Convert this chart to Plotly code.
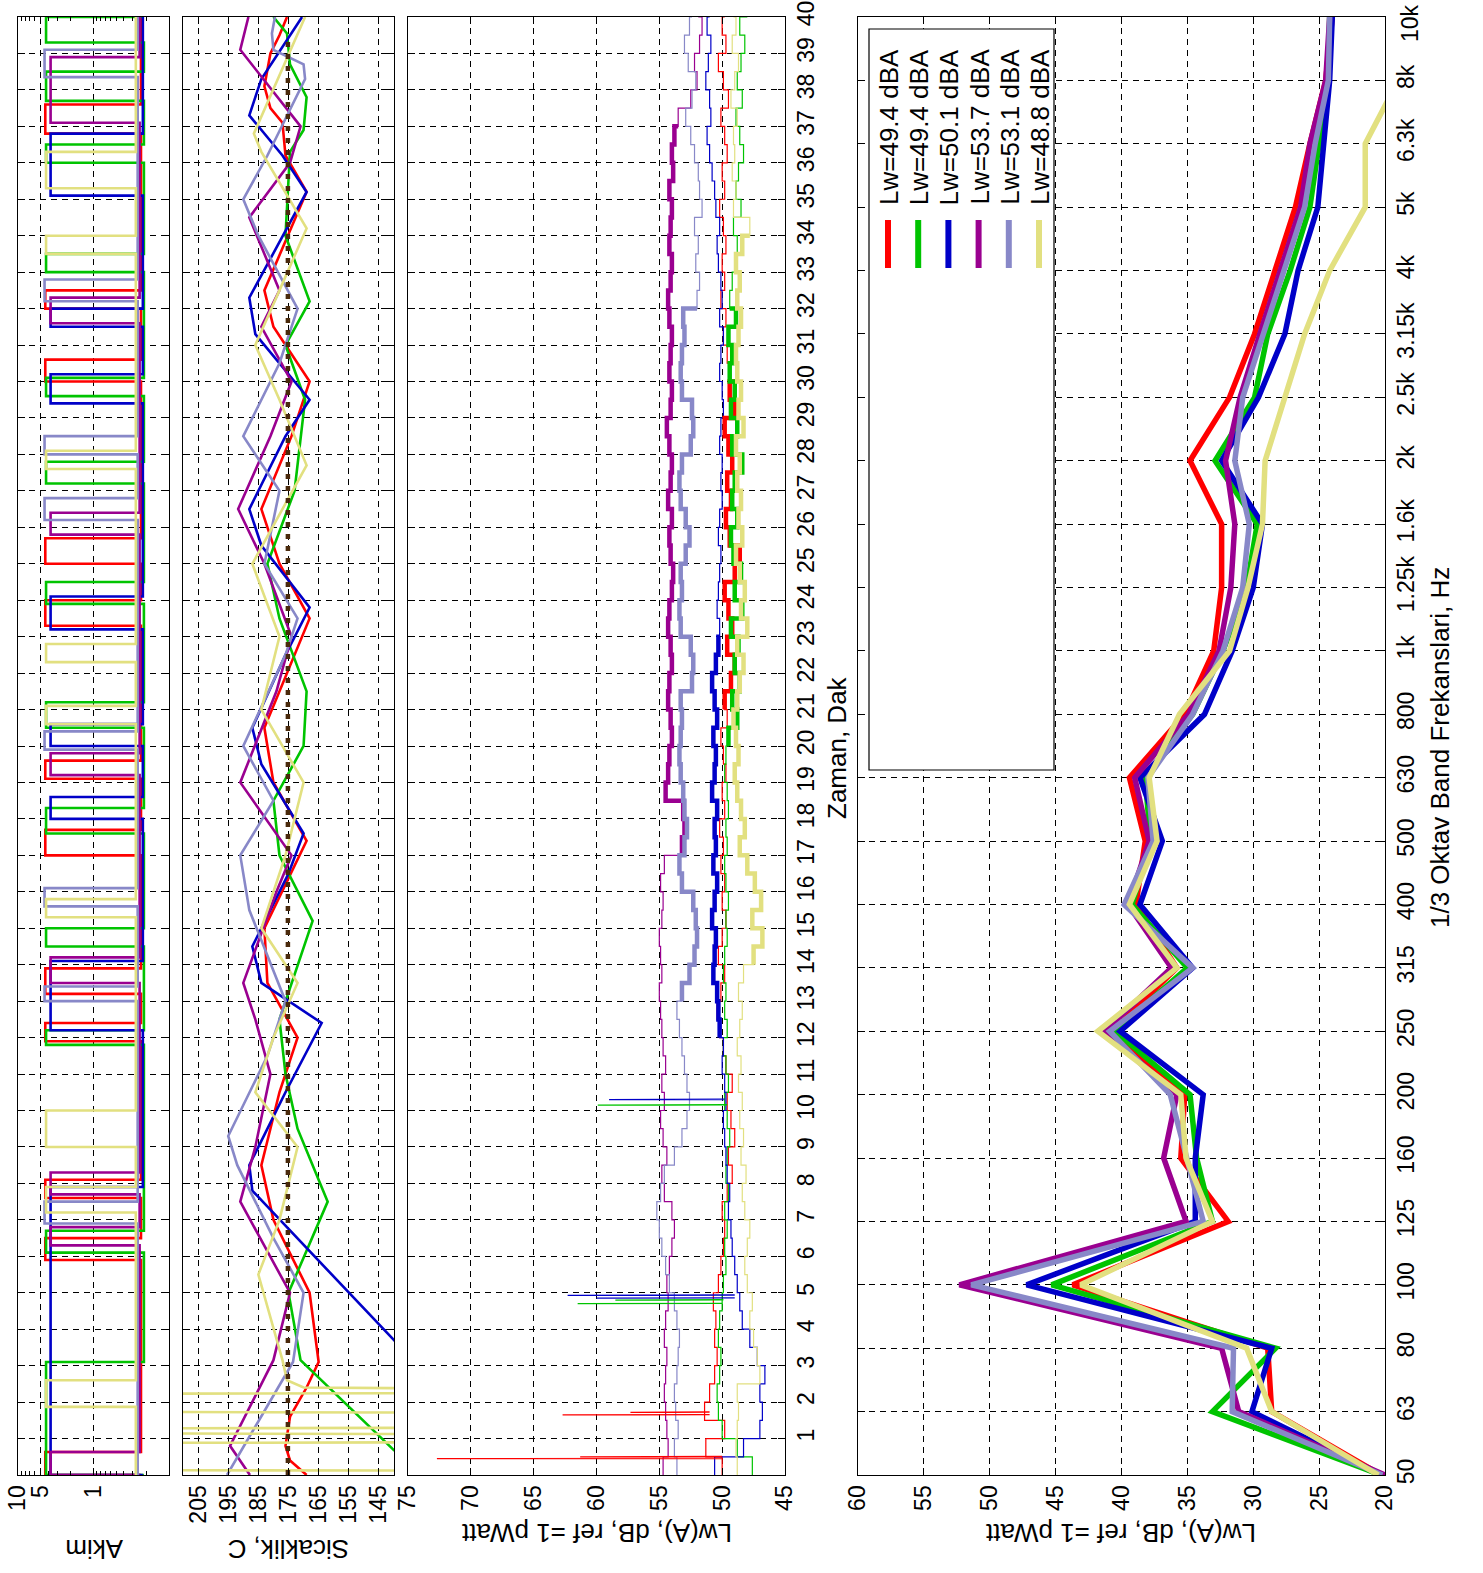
import plotly.graph_objects as go

# ---------------- DATA ----------------
series_names = ["Lw=49.4 dBA", "Lw=49.4 dBA", "Lw=50.1 dBA", "Lw=53.7 dBA", "Lw=53.1 dBA", "Lw=48.8 dBA"]
series_colors = ["#ff0000", "#00c400", "#0000c8", "#9a0090", "#8888c8", "#e2e080"]

# Akim (current): high / low levels and "on" intervals (minutes)
akim_high = [4.35, 4.25, 3.7, 3.7, 4.45, 4.25]
akim_low = [0.235, 0.215, 0.222, 0.245, 0.26, 0.275]
akim_on = [
    [[0, 0.63], [5.9, 6.5], [7.6, 8.1], [11.9, 12.4], [13.2, 13.9], [17.0, 17.7], [19.1, 19.6], [23.3, 24.0], [25.0, 25.7], [30.0, 30.6], [32.0, 32.5], [36.8, 37.6]],
    [[0, 3.1], [6.1, 6.7], [11.8, 12.2], [14.5, 15.0], [17.6, 18.3], [20.5, 21.2], [23.9, 24.5], [27.2, 27.8], [29.6, 30.1], [33.0, 33.5], [36.0, 36.5], [37.7, 38.5], [39.3, 40]],
    [[0, 7.9], [12.2, 14.1], [18.0, 18.6], [20.0, 20.6], [23.2, 24.1], [29.4, 30.2], [31.5, 32.0], [35.1, 36.8]],
    [[0, 0.63], [6.3, 6.8], [7.7, 8.3], [13.5, 14.2], [19.2, 19.8], [25.8, 26.4], [31.6, 32.3], [37.1, 38.9]],
    [[6.9, 7.5], [13.0, 13.4], [15.6, 16.1], [19.9, 20.4], [26.2, 26.8], [28.0, 28.5], [32.2, 32.8], [38.35, 39.1]],
    [[1.87, 2.6], [7.2, 7.9], [9.0, 10.0], [15.3, 15.8], [20.6, 21.1], [22.3, 22.8], [27.6, 28.1], [33.5, 34.0], [35.3, 36.3]],
]

# Sicaklik (temperature) vertices: time (min) and value (C)
temp_t = [
    [0, 0.4, 0.8, 1.6, 2.4, 3.1, 5.0, 7.0, 8.5, 10.5, 12.0, 13.5, 15.0, 17.4, 19.0, 20.5, 23.5, 25.0, 26.5, 28.5, 30.0, 31.5, 32.5, 35.2, 36.2, 37.1, 37.5, 38.1, 39.0, 39.5, 40],
    [0, 0.68, 3.15, 5.0, 7.5, 9.5, 11.0, 12.5, 15.2, 17.0, 18.5, 20.0, 21.5, 23.5, 25.0, 27.0, 29.5, 31.0, 32.2, 34.0, 36.3, 36.9, 37.8, 38.7, 39.55, 40],
    [3.0, 3.7, 7.8, 8.5, 10.5, 12.4, 13.5, 14.5, 16.5, 17.6, 19.5, 20.5, 22.5, 23.8, 25.5, 26.5, 28.5, 29.5, 31.3, 32.3, 34.0, 35.2, 36.2, 37.3, 38.3, 40],
    [0, 0.8, 3.15, 5.0, 7.5, 9.0, 11.0, 12.5, 13.5, 16.0, 17.0, 19.0, 21.5, 23.0, 25.0, 26.5, 28.5, 30.0, 31.5, 32.5, 34.5, 36.0, 37.0, 39.1, 40],
    [0, 3.1, 5.0, 6.5, 8.5, 9.3, 11.5, 13.0, 15.5, 17.0, 18.5, 20.0, 22.5, 23.5, 25.0, 27.0, 28.5, 30.5, 32.0, 34.0, 35.0, 36.2, 38.3, 38.7, 39.1, 39.55, 40],
    [0.0, 0.12, 0.13, 0.88, 0.90, 1.12, 1.14, 1.28, 1.30, 1.71, 1.73, 2.23, 2.25, 2.36, 2.40, 2.6, 3.15, 5.5, 7.0, 9.0, 10.5, 12.0, 13.5, 15.0, 17.0, 19.0, 21.0, 23.0, 25.0, 27.7, 29.5, 31.0, 32.5, 34.2, 36.3, 36.8, 40],
]
temp_v = [
    [169, 174.5, 176, 174.5, 169, 165, 168, 180, 184, 178, 172, 182, 183, 169, 180, 183, 168, 178, 184, 174, 168, 180, 183, 169, 176, 177, 181, 183, 181, 178, 175.5],
    [125, 140, 171, 175, 162, 172, 176, 178, 167, 178, 180, 170, 169, 178, 182, 173, 169.5, 176, 168, 176, 174.5, 170, 169, 174.5, 175.5, 180],
    [132, 140, 187, 188, 176, 164, 184, 187, 175, 170, 184, 187, 176, 168, 184, 188, 176, 168, 186, 188, 177, 169, 177, 188, 184, 170.5],
    [187.8, 194.4, 180, 174.5, 191, 186, 181, 186, 190, 179, 174, 191, 179, 174, 183, 191.7, 181, 174, 184, 178, 188, 174.5, 171, 191, 188.3],
    [195.4, 173.5, 170, 180, 192, 195, 182, 176, 188, 191, 180, 190, 176, 172, 183, 178, 190, 178, 172, 185, 190, 182, 169.5, 170, 180, 180.5, 179.5],
    [100, 100, 230, 230, 100, 100, 230, 230, 100, 100, 230, 230, 100, 100, 170, 175.5, 177, 185, 178, 172, 186, 180, 172, 184, 176, 170, 184, 178, 187, 169, 178, 186, 178, 169, 184, 186.5, 169.5],
]
setpoint_temp = 175.2
setpoint_span = [0, 39.5]

# Lw(A) time series, sampled every 0.5 min from 0 to 40
lw_time = [i * 0.5 for i in range(81)]
lw_vals = [
    [50.0, 51.3, 49.8, 51.4, 51.0, 50.6, 50.4, 50.6, 50.5, 50.7, 50.3, 50.1, 49.9, 49.8, 50.0, 49.6, 49.2, 49.5, 49.0,
     49.3, 49.6, 49.2, 49.7, 49.9, 50.2, 50.4, 50.1, 49.8, 50.3, 50.0, 49.7, 50.0, 49.8, 50.1, 49.9, 50.2, 49.8,
     50.0, 49.7, 49.9, 50.1, 49.6, 49.8, 49.3, 49.0, 49.6, 49.2, 49.5, 49.8, 49.0, 48.6, 49.4, 49.7, 49.3, 49.6,
     49.2, 49.5, 49.8, 49.0, 49.4, 48.8, 49.6, 49.9, 49.7, 50.1, 49.8, 50.0, 49.7, 49.9, 50.2, 49.8, 50.0, 49.6,
     49.8, 50.1, 49.5, 49.9, 50.3, 49.7, 50.0, 49.8],
    [47.6, 48.8, 50.0, 50.3, 50.4, 50.2, 50.1, 50.3, 50.2, 50.0, 49.9, 49.7, 49.8, 49.6, 49.8, 49.5, 49.7, 49.6, 49.4,
     49.6, 49.8, 49.5, 49.7, 49.9, 49.6, 49.8, 49.7, 49.9, 49.8, 49.6, 49.7, 49.5, 49.7, 49.8, 49.6, 49.7, 49.5,
     49.6, 49.8, 49.7, 49.5, 48.8, 49.2, 48.6, 49.0, 48.7, 49.3, 48.4, 49.0, 48.5, 49.1, 49.3, 48.8, 49.2, 49.0,
     48.4, 49.2, 48.8, 49.3, 49.0, 49.4, 49.2, 49.5, 48.9, 49.4, 49.2, 49.0, 48.8, 49.1, 48.5, 48.9, 48.7, 48.3,
     48.6, 48.9, 48.4, 48.8, 48.5, 48.2, 48.6, 48.0],
    [50.6, 48.3, 47.0, 46.8, 47.0, 46.6, 47.2, 47.8, 48.4, 48.6, 48.8, 49.0, 49.2, 49.3, 49.5, 49.4, 49.6, 49.7, 49.8,
     49.9, 49.7, 49.8, 50.0, 49.9, 50.2, 50.3, 50.4, 50.7, 50.6, 50.5, 50.8, 50.6, 50.4, 50.7, 50.5, 50.6, 50.4,
     50.8, 50.6, 50.5, 50.7, 50.4, 50.6, 50.8, 50.5, 50.3, 50.2, 50.4, 50.3, 50.2, 50.1, 50.3, 50.2, 50.0, 50.1,
     50.0, 50.2, 50.1, 49.9, 50.0, 50.2, 50.1, 49.9, 50.2, 50.0, 50.1, 50.3, 50.4, 50.2, 50.5, 50.6, 50.8, 51.0,
     51.2, 50.9, 51.0, 51.3, 51.1, 50.9, 51.2, 51.0],
    [54.7, 54.3, 54.4, 54.5, 54.6, 54.5, 54.4, 54.6, 54.5, 54.3, 54.4, 54.2, 54.0, 53.8, 54.0, 54.6, 54.8, 54.4, 54.7,
     54.9, 54.6, 54.8, 54.5, 54.7, 54.8, 54.9, 55.0, 54.8, 54.9, 55.0, 54.8, 54.7, 54.9, 54.6, 53.2, 53.0, 53.1,
     54.5, 54.3, 54.2, 54.0, 54.1, 54.3, 54.2, 54.0, 54.1, 54.3, 54.2, 54.0, 53.9, 54.1, 54.2, 54.0, 54.3, 54.1,
     54.0, 54.2, 54.4, 54.1, 54.0, 54.2, 54.1, 54.0, 54.2, 54.3, 54.1, 54.0, 54.2, 54.1, 54.0, 54.2, 53.9, 54.0,
     53.8, 53.5, 52.5, 52.0, 52.2, 51.8, 51.6, 51.9],
    [53.6, 53.8, 53.5, 53.7, 53.8, 53.6, 53.5, 53.4, 53.6, 53.8, 54.2, 54.5, 54.8, 55.0, 55.2, 54.9, 54.6, 53.8, 53.2,
     52.8, 52.6, 52.8, 53.0, 53.2, 53.4, 53.6, 53.2, 52.6, 52.2, 52.0, 52.1, 52.3, 53.2, 53.4, 53.0, 52.8, 53.0,
     53.1, 53.3, 53.4, 53.3, 53.2, 53.3, 52.4, 52.3, 52.5, 53.3, 53.4, 53.2, 53.3, 52.9, 52.6, 52.9, 53.3, 53.4,
     53.2, 52.5, 52.3, 52.4, 53.2, 53.3, 53.2, 53.0, 53.1, 52.0, 51.8, 52.1, 51.9, 52.2, 51.6, 51.8, 51.9, 52.2,
     52.5, 52.9, 52.4, 52.1, 52.7, 53.0, 52.6, 52.4],
    [48.8, 48.9, 48.8, 48.7, 48.8, 47.0, 47.2, 47.5, 47.8, 47.6, 48.0, 48.2, 48.0, 47.8, 48.2, 48.4, 48.1, 48.5, 48.3,
     48.6, 48.4, 48.7, 48.5, 48.8, 48.6, 48.4, 48.7, 48.3, 47.5, 46.8, 47.6, 46.9, 47.4, 48.0, 48.6, 48.2, 48.5,
     48.8, 49.0, 48.7, 48.9, 49.1, 48.8, 48.6, 48.3, 48.8, 48.0, 48.5, 48.2, 48.6, 48.9, 48.4, 48.7, 48.5, 48.8,
     48.6, 48.9, 48.3, 48.7, 48.5, 48.8, 48.9, 48.7, 48.5, 48.8, 48.6, 48.9, 48.4, 47.8, 49.1, 48.9, 49.2, 49.0,
     49.1, 48.8, 49.3, 49.0, 48.7, 49.2, 48.9, 49.1],
]
# intervals drawn with thick line (machine running)
lw_thick = [[21, 30], [20, 32], [12, 23], [17, 37], [13, 32], [14, 34]]
# short spikes: series index, time, base value, peak value
spike_series = [0, 0, 0, 0, 1, 1, 1, 2, 2, 2]
spike_time = [0.45, 0.50, 1.65, 1.72, 4.70, 4.80, 10.15, 4.93, 4.85, 10.30]
spike_base = [50.0, 50.0, 51.0, 51.0, 50.0, 49.9, 49.6, 49.0, 49.0, 49.8]
spike_peak = [72.7, 61.3, 62.7, 57.3, 61.5, 58.5, 59.9, 62.3, 60.0, 59.0]

# 1/3 octave spectrum
bands = ["50", "63", "80", "100", "125", "160", "200", "250", "315", "400", "500", "630", "800", "1k",
         "1.25k", "1.6k", "2k", "2.5k", "3.15k", "4k", "5k", "6.3k", "8k", "10k"]
spec = [
    [20.3, 28.6, 28.9, 43.7, 31.9, 35.5, 35.2, 40.7, 35.8, 38.9, 38.2, 39.4, 35.2, 33.0, 32.4, 32.4, 34.8, 31.8, 29.9, 28.3, 26.8, 25.7, 24.5, 24.0],
    [20.3, 33.1, 28.3, 45.3, 33.1, 34.3, 34.8, 40.5, 35.0, 39.2, 37.8, 38.2, 34.6, 32.3, 30.5, 29.7, 32.9, 29.9, 28.9, 27.2, 25.7, 25.0, 24.3, 24.2],
    [20.3, 30.1, 28.6, 47.2, 34.4, 34.4, 33.8, 40.1, 34.6, 38.6, 36.9, 38.6, 33.7, 31.6, 30.0, 29.3, 32.4, 29.6, 27.6, 26.6, 25.1, 24.6, 24.2, 24.0],
    [20.0, 31.1, 32.4, 52.3, 35.1, 36.8, 35.8, 41.3, 36.2, 39.5, 37.9, 39.0, 34.9, 32.6, 31.7, 31.4, 32.1, 31.0, 29.5, 28.0, 26.4, 25.7, 24.5, 24.2],
    [20.2, 31.6, 31.5, 51.4, 33.8, 35.0, 36.3, 40.9, 34.6, 39.8, 37.6, 38.0, 34.6, 32.3, 30.8, 30.3, 31.4, 30.8, 29.2, 27.6, 26.1, 25.3, 24.3, 24.2],
    [20.5, 28.6, 30.5, 43.1, 33.1, 35.1, 35.5, 41.8, 35.8, 39.4, 37.3, 37.9, 35.6, 31.8, 30.4, 29.3, 29.1, 27.6, 26.1, 24.2, 21.5, 21.5, 19.0, 17.0],
]

time_ticks = list(range(1, 41))

# ---------------- LAYOUT HELPERS ----------------
W, H = 1483, 1573
FONT = "Liberation Sans, Arial, sans-serif"
TOP, BOT = 17, 1475


def fx(px):
    return px / W


def fy(py):
    return 1 - py / H


ydom = [fy(BOT), fy(TOP)]

fig = go.Figure()

# Akim panel
for i in range(6):
    xs, ys = [akim_low[i]], [0]
    for s, e in akim_on[i]:
        xs += [akim_low[i], akim_high[i], akim_high[i], akim_low[i]]
        ys += [s, s, e, e]
    xs.append(akim_low[i])
    ys.append(40)
    fig.add_trace(go.Scatter(x=xs, y=ys, mode="lines", xaxis="x", yaxis="y",
                             line=dict(color=series_colors[i], width=2.6), hoverinfo="skip"))

# temperature panel
for i in range(6):
    fig.add_trace(go.Scatter(x=temp_v[i], y=temp_t[i], mode="lines", xaxis="x2", yaxis="y2",
                             line=dict(color=series_colors[i], width=2.6), hoverinfo="skip"))
fig.add_trace(go.Scatter(x=[setpoint_temp, setpoint_temp], y=setpoint_span, mode="lines", xaxis="x2", yaxis="y2",
                         line=dict(color="#4a2a0c", width=4.5, dash="5px,7px"), hoverinfo="skip"))

# Lw time panel
for i in range(6):
    fig.add_trace(go.Scatter(x=lw_vals[i], y=lw_time, mode="lines", xaxis="x3", yaxis="y3",
                             line=dict(color=series_colors[i], width=1.2, shape="vh"), hoverinfo="skip"))
for k in range(len(spike_series)):
    i = spike_series[k]
    fig.add_trace(go.Scatter(x=[spike_base[k], spike_peak[k], spike_base[k]],
                             y=[spike_time[k], spike_time[k], spike_time[k] + 0.01],
                             mode="lines", xaxis="x3", yaxis="y3",
                             line=dict(color=series_colors[i], width=1.2), hoverinfo="skip"))
for i in range(6):
    s, e = lw_thick[i]
    tt = [t for t in lw_time if s <= t <= e]
    vv = [v for t, v in zip(lw_time, lw_vals[i]) if s <= t <= e]
    fig.add_trace(go.Scatter(x=vv, y=tt, mode="lines", xaxis="x3", yaxis="y3",
                             line=dict(color=series_colors[i], width=4.5, shape="vh"), hoverinfo="skip"))

# spectrum panel
band_idx = list(range(len(bands)))
for i in range(6):
    fig.add_trace(go.Scatter(x=spec[i], y=band_idx, mode="lines", xaxis="x4", yaxis="y4",
                             line=dict(color=series_colors[i], width=5.5), hoverinfo="skip"))

TICK_SIZE = 23
tickfont = dict(family=FONT, size=TICK_SIZE, color="black")
common = dict(showline=True, linecolor="black", linewidth=1.2, mirror="ticks", ticks="inside",
              ticklen=7, tickcolor="black", showgrid=True, gridcolor="black", gridwidth=1,
              griddash="6px,5px", zeroline=False, tickfont=tickfont, tickangle=-90, automargin=False,
              ticklabeloverflow="allow")

# the topmost band label would be clipped by the page edge; it is placed as a note just below the edge
band_text = bands[:-1] + [""]

minor_vals = [0.2, 0.3, 0.4, 0.5, 0.6, 0.7, 0.8, 0.9, 2, 3, 4, 6, 7, 8, 9]
fig.update_layout(
    width=W, height=H, autosize=False, showlegend=False,
    margin=dict(l=0, r=0, t=0, b=0, autoexpand=False), paper_bgcolor="white", plot_bgcolor="white",
    font=dict(family=FONT, color="black"),
    xaxis=dict(common, type="log", range=[1, -1], domain=[fx(18), fx(169)], anchor="y",
               tickvals=[1, 5, 10], ticktext=["1", "5", "10"],
               minor=dict(tickvals=minor_vals, ticks="inside", ticklen=4, tickcolor="black", showgrid=False)),
    xaxis2=dict(common, range=[210, 140], domain=[fx(183), fx(394)], anchor="y2",
                tickvals=[145, 155, 165, 175, 185, 195, 205]),
    xaxis3=dict(common, range=[75, 45], domain=[fx(408), fx(785)], anchor="y3",
                tickvals=[45, 50, 55, 60, 65, 70, 75]),
    xaxis4=dict(common, range=[60, 20], domain=[fx(858), fx(1385)], anchor="y4",
                tickvals=[20, 25, 30, 35, 40, 45, 50, 55, 60]),
    yaxis=dict(common, range=[0, 40], domain=ydom, anchor="x", side="right", tickvals=time_ticks,
               showticklabels=False),
    yaxis2=dict(common, range=[0, 40], domain=ydom, anchor="x2", side="right", tickvals=time_ticks,
                showticklabels=False),
    yaxis3=dict(common, range=[0, 40], domain=ydom, anchor="x3", side="right", tickvals=time_ticks),
    yaxis4=dict(common, range=[0, 23], domain=ydom, anchor="x4", side="right", tickvals=band_idx,
                ticktext=band_text),
)

# axis titles (rotated, like the reference)
ann = []
title_font = dict(family=FONT, size=26, color="black")
for txt, px_, py_, ang in [
    ("Akim", 94, 1549, 180),
    ("Sicaklik, C", 289, 1549, 180),
    ("Lw(A), dB, ref =1 pWatt", 597, 1533, 180),
    ("Lw(A), dB, ref =1 pWatt", 1121, 1533, 180),
    ("Zaman, Dak", 837, 748, -90),
    ("1/3 Oktav Band Frekanslari, Hz", 1440, 748, -90),
]:
    ann.append(dict(text=txt, x=fx(px_), y=fy(py_), xref="paper", yref="paper", showarrow=False,
                    textangle=ang, font=title_font, xanchor="center", yanchor="middle"))

# last band label, kept just inside the page top
ann.append(dict(text=bands[-1], x=fx(1395), y=fy(2), xref="paper", yref="paper", showarrow=False,
                textangle=-90, font=tickfont, xanchor="left", yanchor="top"))

# legend drawn rotated like the reference
shapes = [dict(type="rect", xref="paper", yref="paper", x0=fx(869), x1=fx(1054), y0=fy(770), y1=fy(29),
               line=dict(color="black", width=1.2), fillcolor="white", layer="above")]
for i in range(6):
    cx = 888 + 30.2 * i
    shapes.append(dict(type="line", xref="paper", yref="paper", x0=fx(cx), x1=fx(cx), y0=fy(268), y1=fy(220),
                       line=dict(color=series_colors[i], width=6), layer="above"))
    ann.append(dict(text=series_names[i], x=fx(cx + 1), y=fy(207), xref="paper", yref="paper", showarrow=False,
                    textangle=-90, font=dict(family=FONT, size=26, color="black"),
                    xanchor="center", yanchor="bottom"))

fig.update_layout(annotations=ann, shapes=shapes)
fig.write_html("out.html", config={"displayModeBar": False},
               post_script="document.body.style.margin='0';document.body.style.overflow='hidden';")
